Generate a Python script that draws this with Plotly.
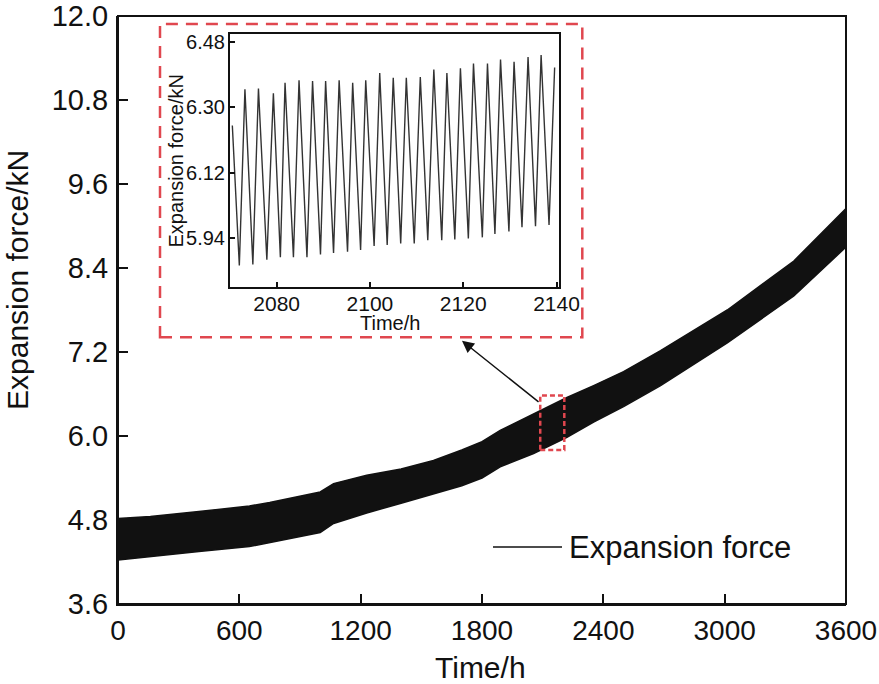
import plotly.graph_objects as go

# ---------------- data ----------------
# main band envelope (time in h, upper/lower expansion force in kN)
env_t = [0, 160, 400, 650, 750, 900, 1000, 1066, 1230, 1400, 1560, 1700,
         1800, 1890, 2055, 2220, 2352, 2500, 2683, 3013, 3342, 3600]
env_hi = [4.82, 4.85, 4.92, 5.00, 5.05, 5.14, 5.20, 5.32, 5.44, 5.53, 5.65, 5.80,
          5.92, 6.08, 6.32, 6.55, 6.72, 6.92, 7.22, 7.80, 8.50, 9.25]
env_lo = [4.23, 4.28, 4.35, 4.42, 4.48, 4.56, 4.62, 4.75, 4.90, 5.04, 5.17, 5.29,
          5.40, 5.56, 5.75, 5.98, 6.20, 6.42, 6.72, 7.33, 8.00, 8.70]

# inset: oscillation peaks and troughs
peak_t = [2070.5, 2073.2, 2076.1, 2079.3, 2081.8, 2084.8, 2087.7, 2090.5, 2093.4,
          2096.3, 2099.1, 2102.1, 2105.0, 2107.8, 2110.8, 2113.7, 2116.5, 2119.4,
          2122.2, 2125.2, 2128.0, 2130.9, 2133.9, 2136.7, 2139.6]
peak_f = [6.25, 6.350, 6.352, 6.339, 6.368, 6.375, 6.373, 6.373, 6.375,
          6.368, 6.375, 6.395, 6.382, 6.382, 6.384, 6.405, 6.395, 6.408,
          6.421, 6.421, 6.432, 6.426, 6.439, 6.445, 6.410]
trough_t = [2072.0, 2074.9, 2077.9, 2080.8, 2083.6, 2086.5, 2089.4, 2092.2, 2095.2,
            2098.0, 2100.9, 2103.7, 2106.6, 2109.5, 2112.4, 2115.4, 2118.2, 2121.1,
            2124.1, 2126.8, 2129.8, 2132.6, 2135.5, 2138.4]
trough_f = [5.863, 5.866, 5.879, 5.886, 5.886, 5.886, 5.894, 5.898, 5.901,
            5.906, 5.917, 5.920, 5.924, 5.924, 5.933, 5.933, 5.935, 5.938,
            5.941, 5.950, 5.957, 5.969, 5.972, 5.975]

main_xticks = [0, 600, 1200, 1800, 2400, 3000, 3600]
main_yticks = [3.6, 4.8, 6.0, 7.2, 8.4, 9.6, 10.8, 12.0]
inset_xticks = [2080, 2100, 2120, 2140]
inset_yticks = [5.94, 6.12, 6.30, 6.48]

legend_label = "Expansion force"
x_title = "Time/h"
y_title = "Expansion force/kN"

# ---------------- build ----------------
FONT = "Liberation Sans, Arial, Helvetica, sans-serif"
RED = "#E0474F"
INK = "#111111"

pts = sorted(list(zip(peak_t, peak_f)) + list(zip(trough_t, trough_f)))
ins_t = [p[0] for p in pts]
ins_f = [p[1] for p in pts]

fig = go.Figure()
fig.add_trace(go.Scatter(x=env_t, y=env_hi, mode="lines",
                         line=dict(color=INK, width=1.5), showlegend=False,
                         hoverinfo="skip"))
fig.add_trace(go.Scatter(x=env_t, y=env_lo, mode="lines", fill="tonexty",
                         fillcolor=INK, line=dict(color=INK, width=1.5),
                         name=legend_label, showlegend=False))
fig.add_trace(go.Scatter(x=ins_t, y=ins_f, mode="lines", xaxis="x2", yaxis="y2",
                         line=dict(color="#333", width=1.4), showlegend=False))

L, R, T, B = 118, 33, 16, 80
W, H = 879, 684
pw, ph = W - L - R, H - T - B


def px(x):
    return (x - L) / pw


def py(y):
    return (H - B - y) / ph


axis_common = dict(showgrid=False, zeroline=False, showline=True, linecolor=INK,
                   ticks="inside", tickcolor=INK, ticklabeloverflow="allow",
                   automargin=False)

fig.update_layout(
    width=W, height=H, margin=dict(l=L, r=R, t=T, b=B, pad=0, autoexpand=False),
    paper_bgcolor="white", plot_bgcolor="white",
    font=dict(family=FONT, color=INK),
    xaxis=dict(range=[0, 3600], tickvals=main_xticks, ticklen=10, tickwidth=2,
               linewidth=2, tickfont=dict(size=28), ticklabelstandoff=0,
               mirror=False, **axis_common),
    yaxis=dict(range=[3.6, 12.0], tickvals=main_yticks, tickformat=".1f",
               ticklen=10, tickwidth=2, linewidth=2, tickfont=dict(size=29),
               ticklabelstandoff=2, mirror=False, **axis_common),
    xaxis2=dict(domain=[px(230), px(559.3)], anchor="y2", range=[2070, 2140.6],
                tickvals=inset_xticks, ticklen=5, tickwidth=1.5, linewidth=2,
                tickfont=dict(size=21), ticklabelstandoff=-4, mirror=True,
                **axis_common),
    yaxis2=dict(domain=[py(287.3), py(34.3)], anchor="x2", range=[5.803, 6.502],
                tickvals=inset_yticks, tickformat=".2f", ticklen=5, tickwidth=1.5,
                linewidth=2, tickfont=dict(size=20), ticklabelstandoff=-1,
                mirror=True, **axis_common),
)

# main frame
fig.add_shape(type="rect", xref="paper", yref="paper", x0=0, x1=1, y0=0, y1=1,
              line=dict(color=INK, width=2))
# inset background
fig.add_shape(type="rect", xref="paper", yref="paper", layer="below",
              x0=px(230), x1=px(559.3), y0=py(287.3), y1=py(34.3),
              fillcolor="white", line=dict(width=0))
# big red dashed frame around inset
fig.add_shape(type="rect", xref="paper", yref="paper",
              x0=px(160), x1=px(582.3), y0=py(337.3), y1=py(24),
              line=dict(color=RED, width=2.5, dash="12px,8px"))
# small red dashed box on the band
fig.add_shape(type="rect", xref="x", yref="y", x0=2088, x1=2207, y0=5.80, y1=6.58,
              line=dict(color=RED, width=2.5, dash="5px,3px"))
# arrow (head at the inset frame, tail at the small box)
fig.add_annotation(x=1701, y=7.36, ax=2087, ay=6.47, xref="x", yref="y",
                   axref="x", ayref="y", showarrow=True, arrowhead=2,
                   arrowsize=1.6, arrowwidth=1.5, arrowcolor=INK, text="")

# manual legend
fig.add_shape(type="line", xref="paper", yref="paper",
              x0=px(493), x1=px(562), y0=py(547), y1=py(547),
              line=dict(color=INK, width=1.5))
fig.add_annotation(x=px(567), y=py(547), xref="paper", yref="paper",
                   text=legend_label, showarrow=False, xanchor="left",
                   yanchor="middle", font=dict(size=31))

# axis titles
fig.add_annotation(x=px(480), y=py(668), xref="paper", yref="paper", text=x_title,
                   showarrow=False, xanchor="center", yanchor="middle",
                   font=dict(size=30))
fig.add_annotation(x=px(17), y=py(280), xref="paper", yref="paper", text=y_title,
                   showarrow=False, textangle=-90, xanchor="center",
                   yanchor="middle", font=dict(size=30))
fig.add_annotation(x=px(390), y=py(323), xref="paper", yref="paper", text=x_title,
                   showarrow=False, xanchor="center", yanchor="middle",
                   font=dict(size=20))
fig.add_annotation(x=px(175), y=py(161.5), xref="paper", yref="paper", text=y_title,
                   showarrow=False, textangle=-90, xanchor="center",
                   yanchor="middle", font=dict(size=20))

fig.write_html("out.html",
               config={"displayModeBar": False},
               post_script="document.body.style.margin='0';"
                           "document.body.style.overflow='hidden';")
